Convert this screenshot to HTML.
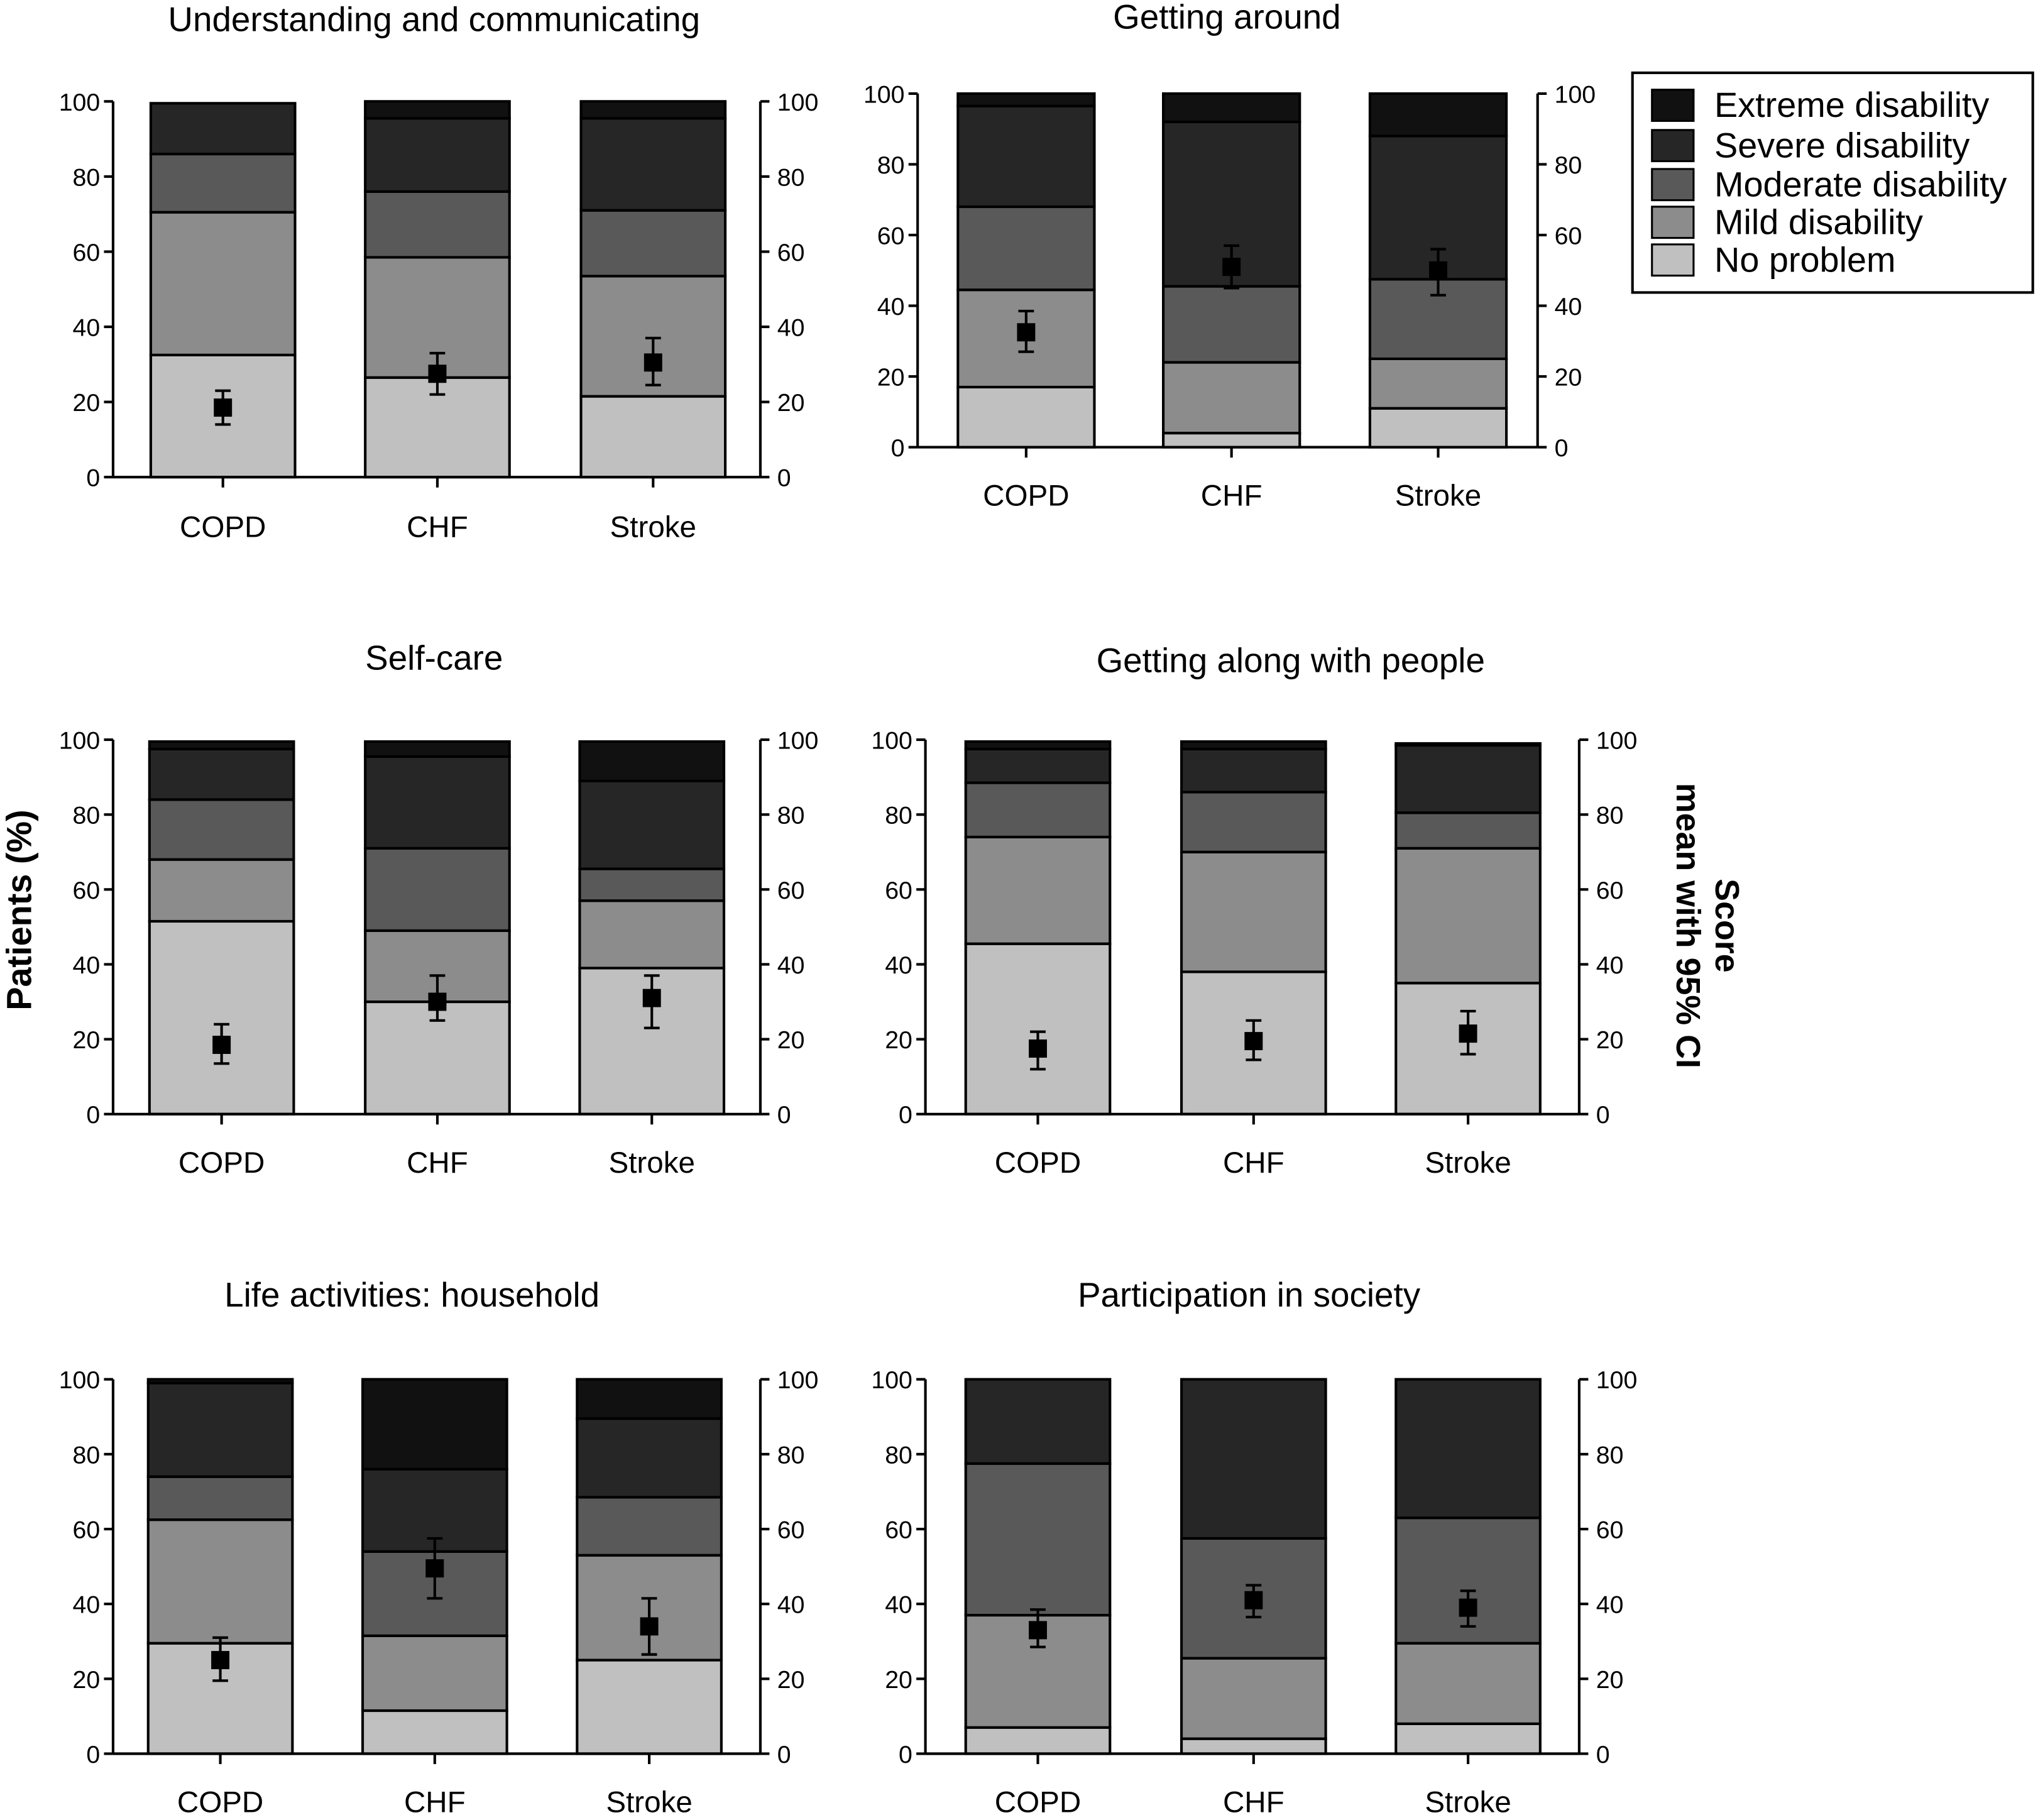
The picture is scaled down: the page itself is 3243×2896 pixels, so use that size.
<!DOCTYPE html>
<html><head><meta charset="utf-8"><style>
html,body{margin:0;padding:0;background:#fff;}
svg{display:block;font-family:"Liberation Sans",Arial,sans-serif;}
</style></head><body>
<svg id="chart" width="3243" height="2896" viewBox="0 0 1568 1400" preserveAspectRatio="none" xmlns="http://www.w3.org/2000/svg">
<text transform="translate(24,700) rotate(-90)" text-anchor="middle" font-size="27" font-weight="bold">Patients (%)</text>
<text transform="translate(1320,712) rotate(90)" text-anchor="middle" font-size="26" font-weight="bold">Score</text>
<text transform="translate(1290,712) rotate(90)" text-anchor="middle" font-size="26" font-weight="bold">mean with 95% CI</text>
<g id="legend"></g>
</svg>
<script>
const categories = ["COPD", "CHF", "Stroke"];
const levels = ["No problem", "Mild disability", "Moderate disability", "Severe disability", "Extreme disability"];
const colors = ["#c0c0c0", "#8c8c8c", "#595959", "#262626", "#111111"];
const panelTitles = ["Understanding and communicating", "Getting around", "Self-care", "Getting along with people", "Life activities: household", "Participation in society"];
// cumulative tops of segments (%) per panel, per category
const cumUnderstanding = [[32.5,70.5,86,99.5,99.5],[26.5,58.5,76,95.5,100],[21.5,53.5,71,95.5,100]];
const cumGettingAround = [[17,44.5,68,96.5,100],[4,24,45.5,92,100],[11,25,47.5,88,100]];
const cumSelfCare = [[51.5,68,84,97.5,99.5],[30,49,71,95.5,99.5],[39,57,65.5,89,99.5]];
const cumGettingAlong = [[45.5,74,88.5,97.5,99.5],[38,70,86,97.5,99.5],[35,71,80.5,98.5,99]];
const cumHousehold = [[29.5,62.5,74,99,100],[11.5,31.5,54,76,100],[25,53,68.5,89.5,100]];
const cumParticipation = [[7,37,77.5,100,100],[4,25.5,57.5,100,100],[8,29.5,63,100,100]];
// mean score with 95% CI [mean, low, high]
const meanUnderstanding = [[18.5,14,23],[27.5,22,33],[30.5,24.5,37]];
const meanGettingAround = [[32.5,27,38.5],[51,45,57],[50,43,56]];
const meanSelfCare = [[18.5,13.5,24],[30,25,37],[31,23,37]];
const meanGettingAlong = [[17.5,12,22],[19.5,14.5,25],[21.5,16,27.5]];
const meanHousehold = [[25,19.5,31],[49.5,41.5,57.5],[34,26.5,41.5]];
const meanParticipation = [[33,28.5,38.5],[41,36.5,45],[39,34,43.5]];
const yTicks = [0,20,40,60,80,100];

const cumData = [cumUnderstanding, cumGettingAround, cumSelfCare, cumGettingAlong, cumHousehold, cumParticipation];
const meanData = [meanUnderstanding, meanGettingAround, meanSelfCare, meanGettingAlong, meanHousehold, meanParticipation];
const layout = [
 {l:87,r:585,y0:367,y100:78,bars:[116,281,447],bw:111,tx:334,ty:24,ly:413},
 {l:706,r:1183,y0:344,y100:72,bars:[737,895,1054],bw:105,tx:944,ty:22,ly:389},
 {l:87,r:585,y0:857,y100:569,bars:[115,281,446],bw:111,tx:334,ty:515,ly:902},
 {l:712,r:1215,y0:857,y100:569,bars:[743,909,1074],bw:111,tx:993,ty:517,ly:902},
 {l:87,r:585,y0:1349,y100:1061,bars:[114,279,444],bw:111,tx:317,ty:1005,ly:1394},
 {l:712,r:1215,y0:1349,y100:1061,bars:[743,909,1074],bw:111,tx:961,ty:1005,ly:1394}
];
const NS="http://www.w3.org/2000/svg";
const svg=document.getElementById('chart');
function mk(tag,attrs,parent){const e=document.createElementNS(NS,tag);for(const k in attrs)e.setAttribute(k,attrs[k]);(parent||svg).appendChild(e);return e;}
layout.forEach((L,p)=>{
 const g=mk('g',{});
 
 
 const y=v=>L.y0-(L.y0-L.y100)*v/100;
 const t=mk('text',{x:L.tx,y:L.ty,'text-anchor':'middle','font-size':26.5},g);t.textContent=panelTitles[p];
 
 
 categories.forEach((c,i)=>{
  const cum=cumData[p][i];const x=L.bars[i];let prev=0;
  cum.forEach((top,k)=>{
   if(top-prev>0.01){
    const r=mk('rect',{x:x,y:y(top),width:L.bw,height:y(prev)-y(top),fill:colors[k],stroke:'#000','stroke-width':2},g);
    
    
   }
   prev=top;
  });
  const cx=x+L.bw/2;const m=meanData[p][i];
  const eb=mk('g',{},g);
  
  
  mk('line',{x1:cx,x2:cx,y1:y(m[1]),y2:y(m[2]),stroke:'#000','stroke-width':2},eb);
  mk('line',{x1:cx-6,x2:cx+6,y1:y(m[1]),y2:y(m[1]),stroke:'#000','stroke-width':2},eb);
  mk('line',{x1:cx-6,x2:cx+6,y1:y(m[2]),y2:y(m[2]),stroke:'#000','stroke-width':2},eb);
  mk('rect',{x:cx-7,y:y(m[0])-7,width:14,height:14,fill:'#000'},eb);
  mk('line',{x1:cx,x2:cx,y1:L.y0,y2:L.y0+8,stroke:'#000','stroke-width':2},g);
  const lab=mk('text',{x:cx,y:L.ly,'text-anchor':'middle','font-size':23},g);lab.textContent=c;
  
  
 });
 mk('line',{x1:L.l,x2:L.l,y1:L.y0,y2:L.y100,stroke:'#000','stroke-width':2},g);
 mk('line',{x1:L.r,x2:L.r,y1:L.y0,y2:L.y100,stroke:'#000','stroke-width':2},g);
 mk('line',{x1:L.l,x2:L.r,y1:L.y0,y2:L.y0,stroke:'#000','stroke-width':2},g);
 yTicks.forEach(v=>{
  mk('line',{x1:L.l-7,x2:L.l,y1:y(v),y2:y(v),stroke:'#000','stroke-width':2},g);
  mk('line',{x1:L.r,x2:L.r+7,y1:y(v),y2:y(v),stroke:'#000','stroke-width':2},g);
  const a=mk('text',{x:L.l-10,y:y(v)+7,'text-anchor':'end','font-size':19},g);a.textContent=v;
  
  
  const b=mk('text',{x:L.r+13,y:y(v)+7,'text-anchor':'start','font-size':19},g);b.textContent=v;
  
  
 });
});
const lg=document.getElementById('legend');
mk('rect',{x:1256,y:56,width:308,height:169,fill:'#fff',stroke:'#000','stroke-width':2},lg);
const rowsY=[81,112,142,171,200];
for(let k=4;k>=0;k--){
 const ry=rowsY[4-k];
 const e=mk('g',{},lg);
 
 
 mk('rect',{x:1271,y:ry-12,width:32,height:24,fill:colors[k],stroke:'#000','stroke-width':1.5},e);
 const tx=mk('text',{x:1319,y:ry+9,'font-size':27},e);tx.textContent=levels[k];
}
</script>
</body></html>
